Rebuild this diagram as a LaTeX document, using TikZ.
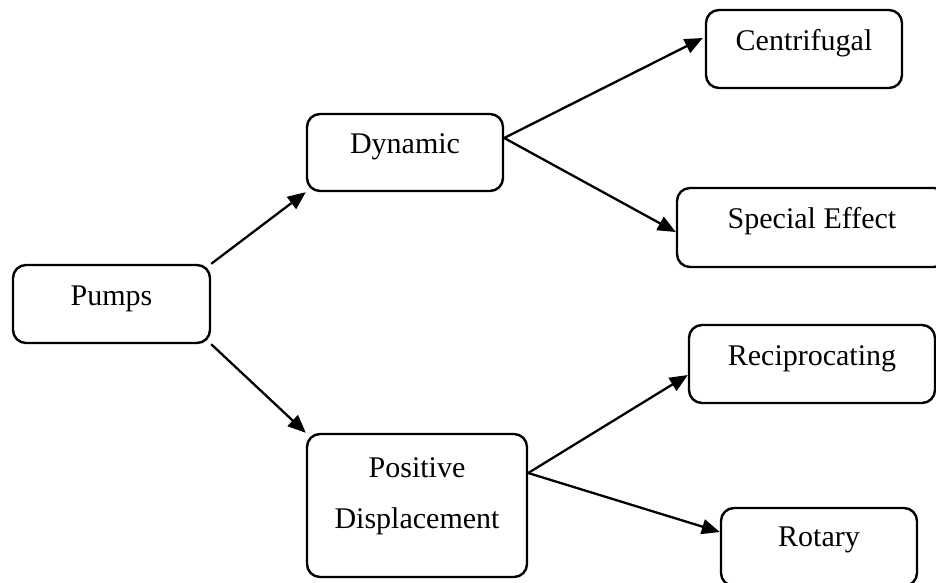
\documentclass[tikz,border=0pt]{standalone}
\usepackage{fontspec}
\setmainfont{Liberation Serif}
\usetikzlibrary{arrows.meta,calc}
\tikzset{
  box/.style={draw=black, line width=2.4pt, rounded corners=13pt, inner sep=0pt, fill=white},
  lbl/.style={anchor=base, inner sep=0pt, font=\fontsize{30}{51}\selectfont, align=center},
  conn/.style={line width=2.3pt, -{Triangle[length=18pt,width=15pt]}}
}
\begin{document}
\begin{tikzpicture}[x=1pt,y=-1pt]
\useasboundingbox (0,0) rectangle (936,582);
\fill[white] (0,0) rectangle (936,582);
\clip (0,0) rectangle (936,582);
% boxes
\node[box, minimum width=197pt, minimum height=78pt] (pumps) at (111.5,304) {};
\node[box, minimum width=196pt, minimum height=77pt] (dyn) at (405,152.5) {};
\node[box, minimum width=220pt, minimum height=143pt] (pd) at (417,505.5) {};
\node[box, minimum width=196pt, minimum height=78pt] (cen) at (804,49) {};
\node[box, minimum width=270pt, minimum height=79pt] (spe) at (812,227.5) {};
\node[box, minimum width=246pt, minimum height=78pt] (rec) at (812,364) {};
\node[box, minimum width=196pt, minimum height=78pt] (rot) at (819,547) {};
% texts
\node[lbl] (tpumps) at ($(pumps.north)+(0,42)$) {Pumps};
\node[lbl] (tdyn) at ($(dyn.north)+(0,41)$) {Dynamic};
\node[lbl] (tpd1) at ($(pd.north)+(0,45)$) {Positive};
\node[lbl] (tpd2) at ($(pd.north)+(0,96)$) {Displacement};
\node[lbl] (tcen) at ($(cen.north)+(0,42)$) {Centrifugal};
\node[lbl] (tspe) at ($(spe.north)+(0,42)$) {Special Effect};
\node[lbl] (trec) at ($(rec.north)+(0,42)$) {Reciprocating};
\node[lbl] (trot) at ($(rot.north)+(0,40)$) {Rotary};
% connectors
\draw[conn] (pumps.north east) -- (dyn.south west);
\draw[conn] (pumps.south east) -- (pd.north west);
\draw[conn] ($(dyn.east)+(0,-14.5)$) -- ($(cen.west)+(-2,-11)$);
\draw[conn] ($(dyn.east)+(0,-14.5)$) -- ($(spe.west)+(0,4.5)$);
\draw[conn] ($(pd.east)+(0,-32.5)$) -- ($(rec.west)+(0,11)$);
\draw[conn] ($(pd.east)+(0,-32.5)$) -- ($(rot.west)+(0,-15)$);
\end{tikzpicture}
\end{document}
